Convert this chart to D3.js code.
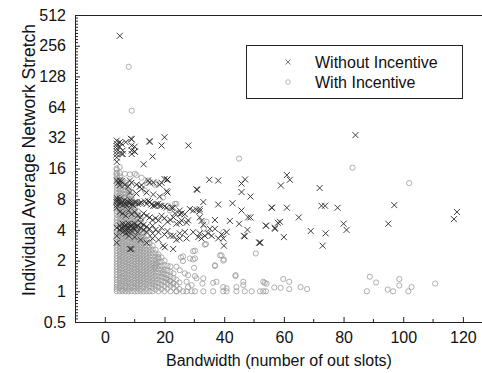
<!DOCTYPE html>
<html>
<head>
<meta charset="utf-8">
<script src="https://cdn.jsdelivr.net/npm/d3@7"></script>
<style>
  body { margin: 0; background: #fff; }
  svg text { font-family: "Liberation Sans", Arial, sans-serif; fill: #111; }
</style>
</head>
<body>
<svg id="chart" width="482" height="373"></svg>
<script>
// tick values
var xTicks = [0, 20, 40, 60, 80, 100, 120];
var xMinorTicks = [10, 30, 50, 70, 90, 110];
var yTicks = [0.5, 1, 2, 4, 8, 16, 32, 64, 128, 256, 512];
var seriesNames = ["Without Incentive", "With Incentive"];

// [bandwidth, stretch]
var withoutIncentive = [
  [5,320],[84,34],
  [20,32.4],[15,29.2],[9,31],[8.7,31.3],[7,29],[5.6,28],[4,30],[4,28],[4,26.5],[4,25],[4,23.5],[4,22],[4,20.5],
  [5,29],[5,26],[6,24],[9,26.9],[10,26.2],[9,24],[10,23.5],[9,22.2],[5.6,22.2],[19,26.9],[28,26.9],[15,29.7],
  [16,21],[4,18.6],[13,17.6],[10,23.4],[6,22.2],
  [4,12.2],[4.5,11.6],[5,11],[5.6,12],[5,12.2],[6.7,11.1],[7.8,10.6],[8.4,12.2],[8.9,11.6],[10.6,11.1],[11.7,10.6],
  [12.3,10.1],[15,11.6],[18.4,11.1],[19,11.6],[20,12.6],[20.9,12.4],[21,9.3],[8.4,9.3],[10.6,9.1],[14,9.3],[16.2,8.9],
  [18.4,8.5],[20.7,9.6],[12.3,11],[14.5,12.2],[16.2,11.7],
  [3.9,7.5],[4,7.8],[4,8.2],[4,7],[4,6.6],[5,7.2],[5,7.7],[5,8.1],[5.5,7.4],[6,7.5],[6,7],[6.5,7.8],[7,7.2],[7.3,6.9],
  [7.5,7.6],[8,7.4],[8.4,7.3],[8.5,7.8],[9,7.1],[9.5,7.0],[10,7.5],[10.6,7.5],[11,7.2],[11.7,7.3],[12.3,7.4],[13.4,7.6],
  [14,7.2],[14.5,7.7],[15.1,7.5],[15.6,7.1],[16.2,6.9],[16.8,6.9],[17.3,7.2],[17.9,7.2],[18.4,6.9],[19,6.9],[20,6.8],
  [20.7,6.6],[22.4,6.6],[22.9,6.6],[25.1,6.2],[23.5,5.8],
  [5,6.0],[6,5.8],[7,5.5],[8,6.2],[9,5.7],[10,6],[11,5.5],[12,5.3],[13,5.8],[14,5.5],[15,5.3],[16,5.0],[17,5.2],[18,4.96],
  [19,5.5],[20,5.2],[21,4.8],[22,5.0],[23,5.3],[24,4.6],[25.7,5.8],[26.8,5.7],[25.7,4.96],[27.9,4.96],[31.8,5.3],
  [32.4,4.9],[28.5,6.4],[29.6,6.2],[30.7,6.3],[31.8,6.4],[31.8,6.1],
  [5,4.4],[5,4.0],[5.5,4.2],[6,4.6],[6,4.1],[6,3.8],[6.5,4.3],[7,4.5],[7,4.0],[7,3.7],[7.5,4.2],[8,4.6],[8,4.1],[8,3.8],
  [8.5,4.3],[9,4.5],[9,3.9],[9.5,4.2],[10,4.6],[10,4.0],[10.5,4.3],[11,4.4],[11,3.8],[12,4.2],[12,4.7],[13,4.0],[13,4.5],
  [14,4.3],[14,3.8],[15,4.1],[16,4.4],[16,3.7],[17,4.0],[18,3.8],[19,4.2],[20,3.6],[21,3.9],[22,3.5],[4,4.2],[4,3.5],[4,3.0],
  [20.1,2.7],[22.9,2.6],[12,3.2],[14,3.0],[18,3.2],[10,3.4],[16,3.3],[8,3.5],[8.4,2.6],[8.9,2.6],[19.5,2.8],
  [25.1,4.7],[27.4,4.7],[26.8,3.8],[29.6,3.8],[31.3,3.4],[32.4,3.3],[27.4,3.3],[25.1,3.3],[35.2,4.1],[36.9,4.1],[34.6,3.7],
  [35.8,3.5],[38,3.3],[39.7,3.3],[39.9,2.8],[40.8,3.8],[47.8,4.0],[46.6,3.5],[51.7,3.0],[25.1,3.7],[36.9,5.0],[41.9,4.9],
  [45,4.6],[48,5.3],[48.8,5.3],[54,4.4],[57,4.1],[58.7,4.8],[33,4.5],[23,3.5],[24,3.2],[33.5,3.5],[31.8,3.7],[39.1,3.6],
  [46.9,3.46],[52,3.0],
  [21,12.5],[35,12.4],[38,12.2],[45.8,11.4],[47,12.5],[31,9.9],[45.8,9.4],[48.8,8.5],[33,7.5],[38,7.1],[42.8,7.3],
  [45.8,6.2],[55.9,6.6],[25.1,5.7],[30.7,10],[20.9,12.4],
  [61,13.8],[62,12.4],[59,10.9],[72,10.3],[56,6.6],[61,6.6],[72.6,6.9],[73.8,6.9],[78,6.6],[97,7.0],[118,6.0],[117,5.1],
  [65,5.3],[54,4.4],[57,4.2],[58,4.7],[69,3.9],[74,3.7],[60,3.4],[73,2.8],[80,4.6],[81,4.0],[95,4.6],[52,3.0]
];

// sparse "with incentive" points
var withIncentive = [
  [8,159],[9,59],[45,20],[83,16.3],[102,11.5],[24,7.2],[21.8,6.2],[21.2,6.9],[16.8,11.1],[14,11.6],[12.3,13],[10.6,13.8],
  [10,14.2],[8.4,14],[6.7,14.2],[5,14.4],[3.9,16],[3.9,14.2],[5,16.5],
  [14.5,12.2],[17.3,11.4],[13.4,9.7],[19.5,8.3],[23.5,7.2],[34.1,4.8],[33.2,4.1],[39.7,3.8],
  [17.9,2.17],[26.2,2.2],[28.5,2.1],[29.6,2.05],[30.2,2.5],[36.9,1.8],[33.9,2.9],[39.1,2.25],[39.9,2.05],[50.6,2.35],
  [43.8,1.44],[37.4,1.24],[36.3,1.21],[24,1.74],[25.1,1.61],[26.8,1.5],[27.9,1.44],[19.5,1.55],[16.8,1.71],[17.3,1.87],
  [30.2,1.41],[30.7,1.34],[33,1.34],[32.7,1.19],[20.7,1.34],[21.8,1.26],[22.9,1.19],[27.4,1.24],[27.9,1.1],[29.1,1.15],
  [39.7,1.1],[40.8,1.07],[46.4,1.24],[46.4,1.15],[44.1,1.1],[53.1,1.24],[54.2,1.19],
  [26.2,1],[27.4,1],[29.1,1],[30.2,1],[33,1],[36.3,1],[39.7,1],[40.8,1],[44.1,1],[46.9,1],[49.2,1],[52,1],[53.1,1],[24,1],
  [53.6,1.21],[54,1.0],[56.8,1.09],[58.9,1.08],[59.8,1.32],[61.8,1.24],[61.8,1.05],[65.6,1.1],[67.8,1.05],[88.8,1.39],
  [90.9,1.22],[87.8,1.0],[94.8,1.04],[96.6,1.0],[98.7,1.32],[98.7,1.14],[101.7,1.0],[102.8,1.1],[110.7,1.19],
  [33.5,2.87],[29.6,2.47],[30.2,2.1],[25.5,2.15],[26.2,1.98],[29.9,1.7],[38.6,2.25],[39.7,2.0],[36.9,1.77],[43.8,1.41]
];

// dense block of "with incentive" points, one column per bandwidth
var withIncentiveColumns = [
  [4, [1,1.05,1.1,1.16,1.22,1.3,1.38,1.46,1.55,1.65,1.75,1.86,1.98,2.1,2.23,2.37,2.52,2.68,2.85,3.03,3.22,3.43,3.65,3.9,4.15,4.4,4.7,5,5.3,5.7,6.1,6.5,6.9,7.4,7.9,8.4,9,9.6,10.3,11,11.8,12.6,13.5,14.5,15.6]],
  [5, [1,1.08,1.14,1.2,1.28,1.35,1.44,1.52,1.62,1.72,1.83,1.95,2.05,2.2,2.32,2.45,2.6,2.78,2.95,3.12,3.3,3.55,3.75,4,4.25,4.55,4.9,5.2,5.6,6,6.4,6.8,7.3,8,8.6,9.3,10,10.8,11.5,12.4,13.4]],
  [6, [1,1.04,1.12,1.18,1.26,1.33,1.41,1.5,1.58,1.68,1.79,1.9,2.02,2.15,2.28,2.42,2.58,2.74,2.9,3.08,3.28,3.5,3.7,3.95,4.2,4.5,4.8,5.1,5.5,5.9,6.3,6.7,7.2,7.8,8.5,9.1,9.8,10.6,11.4,12.2]],
  [7, [1,1.07,1.13,1.2,1.27,1.36,1.45,1.54,1.64,1.74,1.85,1.97,2.1,2.24,2.38,2.53,2.7,2.86,3.05,3.25,3.46,3.68,3.92,4.2,4.5,4.85,5.2,5.6,6,6.5,7,7.6,8.3,9,9.8,10.7,11.6]],
  [8, [1,1.05,1.11,1.19,1.25,1.33,1.42,1.51,1.6,1.7,1.81,1.93,2.06,2.19,2.33,2.48,2.64,2.81,3,3.18,3.4,3.62,3.86,4.1,4.4,4.75,5.1,5.5,5.9,6.4,6.9,7.5,8.1,8.8,9.6,10.4]],
  [9, [1,1.08,1.15,1.22,1.3,1.38,1.47,1.56,1.66,1.77,1.88,2,2.13,2.27,2.42,2.57,2.74,2.92,3.1,3.3,3.52,3.75,4,4.3,4.6,5,5.4,5.8,6.3,6.8,7.4,8,8.7,9.4]],
  [10, [1,1.06,1.12,1.2,1.27,1.35,1.44,1.53,1.63,1.73,1.84,1.96,2.09,2.22,2.36,2.52,2.68,2.85,3.03,3.23,3.44,3.66,3.9,4.2,4.5,4.85,5.2,5.7,6.2,6.7,7.3]],
  [11, [1,1.07,1.14,1.21,1.29,1.37,1.46,1.55,1.65,1.76,1.87,1.99,2.12,2.26,2.4,2.56,2.72,2.9,3.08,3.3,3.5,3.75,4,4.3,4.7,5.1,5.6,6.1]],
  [12, [1,1.05,1.13,1.2,1.28,1.36,1.45,1.54,1.64,1.74,1.86,1.98,2.1,2.24,2.38,2.54,2.7,2.88,3.06,3.26,3.48,3.7,4,4.3,4.7,5.2]],
  [13, [1,1.1,1.18,1.26,1.34,1.43,1.52,1.62,1.73,1.85,1.97,2.1,2.24,2.4,2.56,2.74,2.93,3.15,3.4,3.7,4.1]],
  [14, [1,1.06,1.15,1.23,1.32,1.41,1.5,1.6,1.71,1.83,1.95,2.08,2.22,2.38,2.55,2.74,2.95,3.2,3.5,3.9]],
  [15, [1,1.12,1.2,1.28,1.37,1.47,1.57,1.68,1.8,1.92,2.05,2.2,2.36,2.53,2.72,2.95,3.2]],
  [16, [1,1.08,1.17,1.26,1.35,1.45,1.55,1.66,1.78,1.9,2.04,2.2,2.37,2.56,2.8]],
  [17, [1.04,1.13,1.22,1.32,1.42,1.53,1.64,1.76,1.87,2.02,2.17,2.35,2.55]],
  [18, [1,1.1,1.2,1.3,1.4,1.52,1.64,1.78,1.93,2.1,2.3]],
  [19, [1.05,1.16,1.27,1.38,1.5,1.63,1.77,1.95,2.15]],
  [20, [1,1.12,1.23,1.35,1.48,1.62,1.8,2.0]],
  [21, [1.06,1.18,1.3,1.44,1.6,1.78]],
  [22, [1,1.13,1.26,1.4,1.56,1.75]],
  [23, [1.08,1.2,1.35,1.5]],
  [24, [1,1.15,1.3]],
  [25, [1.05,1.22]]
];

var svg = d3.select("#chart");

var xScale = d3.scaleLinear().domain([-10, 126.4]).range([75, 482]);
var yScale = d3.scaleLog().base(2).domain([0.5, 512]).range([322, 15]);

var circleData = withIncentive.slice();
withIncentiveColumns.forEach(function(c) {
  c[1].forEach(function(v) { circleData.push([c[0], v]); });
});

// circles first, crosses on top
svg.append("g").selectAll("circle")
  .data(circleData)
  .enter().append("circle")
  .attr("cx", function(d) { return xScale(d[0]); })
  .attr("cy", function(d) { return yScale(d[1]); })
  .attr("r", 2.6)
  .attr("fill", "none")
  .attr("stroke", "#9a9a9a")
  .attr("stroke-width", 0.8);

var crossPath = "M-3,-3L3,3M-3,3L3,-3";
svg.append("g").selectAll("path")
  .data(withoutIncentive)
  .enter().append("path")
  .attr("transform", function(d) { return "translate(" + xScale(d[0]) + "," + yScale(d[1]) + ")"; })
  .attr("d", crossPath)
  .attr("stroke", "#2a2a2a")
  .attr("stroke-width", 0.9)
  .attr("fill", "none");

// axes, ticks point inward
var xAxis = d3.axisBottom(xScale).tickValues(xTicks).tickSizeInner(-5).tickSizeOuter(0).tickPadding(10);
var gx = svg.append("g").attr("transform", "translate(0,322)").call(xAxis);
gx.selectAll(".tick line").attr("stroke", "#222");
gx.selectAll("text").style("font-size", "16px").attr("fill", "#111");
gx.select(".domain").attr("stroke", "#222");
gx.selectAll(".minor").data(xMinorTicks).enter().append("line")
  .attr("x1", function(d) { return xScale(d); }).attr("x2", function(d) { return xScale(d); })
  .attr("y1", 0).attr("y2", -3).attr("stroke", "#222");

var yAxis = d3.axisLeft(yScale).tickValues(yTicks).tickFormat(d3.format("")).tickSizeInner(-5).tickSizeOuter(0).tickPadding(9);
var gy = svg.append("g").attr("transform", "translate(75,0)").call(yAxis);
gy.selectAll(".tick line").attr("stroke", "#222");
gy.selectAll("text").style("font-size", "16px").attr("fill", "#111");
gy.select(".domain").attr("stroke", "#222");

var yMinor = [];
for (var e = -1; e < 9; e++) {
  for (var k = 1; k < 10; k++) yMinor.push(Math.pow(2, e + k / 10));
}
gy.selectAll(".minor").data(yMinor).enter().append("line")
  .attr("x1", 0).attr("x2", 3)
  .attr("y1", function(d) { return yScale(d); }).attr("y2", function(d) { return yScale(d); })
  .attr("stroke", "#222");

// top border
svg.append("line").attr("x1", 75).attr("x2", 482).attr("y1", 15.5).attr("y2", 15.5).attr("stroke", "#222");

// titles
svg.append("text")
  .attr("x", 279).attr("y", 366)
  .attr("text-anchor", "middle")
  .style("font-size", "16px")
  .text("Bandwidth (number of out slots)");

svg.append("text")
  .attr("transform", "translate(35,160) rotate(-90)")
  .attr("text-anchor", "middle")
  .style("font-size", "17.5px")
  .text("Individual Average Network Stretch");

// legend
var legend = svg.append("g");
legend.append("rect")
  .attr("x", 246.5).attr("y", 45.5).attr("width", 216).attr("height", 53)
  .attr("fill", "#fff").attr("stroke", "#222");
legend.append("path")
  .attr("transform", "translate(288,62)")
  .attr("d", "M-2.5,-2.5L2.5,2.5M-2.5,2.5L2.5,-2.5")
  .attr("stroke", "#555").attr("stroke-width", 0.8);
legend.append("circle")
  .attr("cx", 288).attr("cy", 82).attr("r", 2.3)
  .attr("fill", "none").attr("stroke", "#aaa").attr("stroke-width", 0.8);
legend.append("text").attr("x", 315).attr("y", 68).style("font-size", "16px").text(seriesNames[0]);
legend.append("text").attr("x", 315).attr("y", 88).style("font-size", "16px").text(seriesNames[1]);
</script>
</body>
</html>
